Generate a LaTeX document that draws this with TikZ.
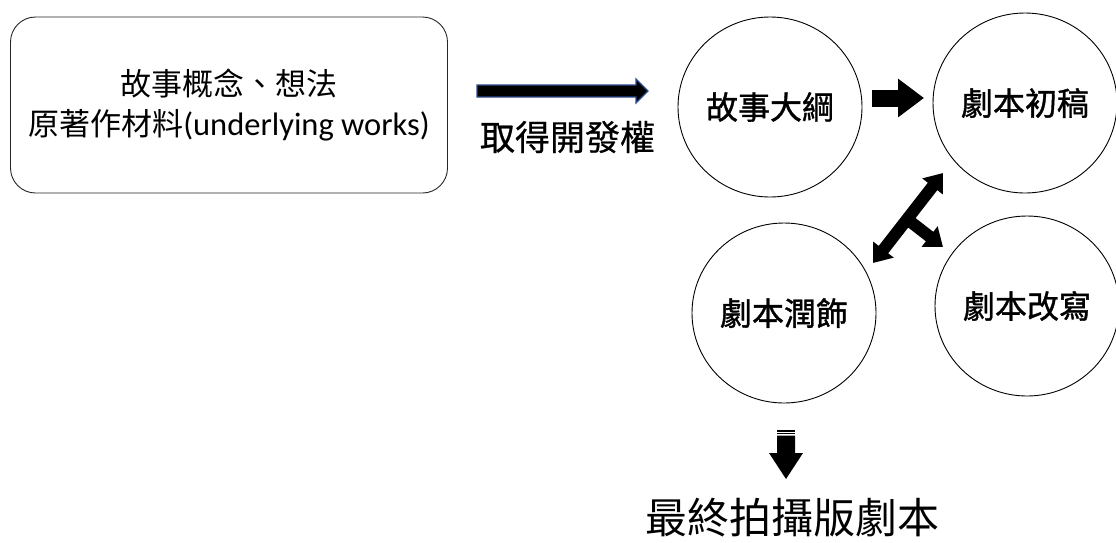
\documentclass[tikz,border=0pt]{standalone}
\usepackage{fontspec}
\setmainfont{Noto Sans CJK TC}
\newfontfamily\lat{Carlito}
\newfontfamily\midcjk[FakeBold=1.2]{Noto Sans CJK TC}
\newfontfamily\semicjk[FakeBold=0.6]{Noto Sans CJK TC}
\usetikzlibrary{arrows.meta,shapes.geometric}
\definecolor{navyedge}{RGB}{45,75,145}
\begin{document}
\begin{tikzpicture}[x=1pt,y=-1pt,
  stage/.style={draw=black, line width=0.9pt, ellipse, minimum width=184pt, minimum height=180pt, inner sep=0pt, font=\fontsize{32}{36}\midcjk},
  srcbox/.style={draw=black!85, line width=0.9pt, rounded corners=25pt, minimum width=437pt, minimum height=176pt, align=center, font=\fontsize{31}{40}\selectfont},
  fat/.style={line width=12pt, black},
  caption/.style={inner sep=0pt}]
\useasboundingbox (0,0) rectangle (1116,542);
% source box
\node[srcbox] (src) at (229,105) {故事概念、想法\\原著作材料{\lat\fontsize{32.5}{40}\selectfont(underlying works)}};
% stages
\node[stage] (outline) at (770,107) {故事大綱};
\node[stage] (draft) at (1025,103) {劇本初稿};
\node[stage] (polish) at (784,313) {劇本潤飾};
\node[stage] (rewrite) at (1027,306) {劇本改寫};
% rights arrow
\coordinate (ra0) at (477,91);
\coordinate (ra1) at (648,91);
\filldraw[fill=black, draw=navyedge, line width=1.2pt]
  (477,85) -- (636,85) -- (636,79) -- (ra1) -- (636,103) -- (636,97) -- (477,97) -- cycle;
\node[caption, font=\fontsize{35}{40}\semicjk] (rights) at (567.5,137) {取得開發權};
% outline -> draft
\coordinate (oa0) at (872,98);
\coordinate (oa1) at (924,98);
\draw[line width=17pt, -{Triangle[length=26pt,width=37pt]}] (oa0) -- (oa1);
% bent double arrow
\coordinate (tipdraft) at (943,173);
\coordinate (tippolish) at (873,263);
\coordinate (junction) at (907,219);
\coordinate (tiprewrite) at (943,247);
\draw[fat, {Triangle[length=17pt,width=25pt]}-{Triangle[length=17pt,width=25pt]}] (tippolish) -- (tipdraft);
\draw[fat, -{Triangle[length=17pt,width=25pt]}] (junction) -- (tiprewrite);
% down arrow
\fill[black] (777,430) rectangle (795,431.6);
\fill[black] (777,432.8) rectangle (795,434.4);
\fill[black] (777,435.6) -- (795,435.6) -- (795,453) -- (803,453) -- (786,479) -- (769,453) -- (777,453) -- cycle;
\coordinate (downtip) at (786,479);
% final
\node[caption, font=\fontsize{42}{46}\selectfont] (final) at (792,518) {最終拍攝版劇本};
\end{tikzpicture}
\end{document}
